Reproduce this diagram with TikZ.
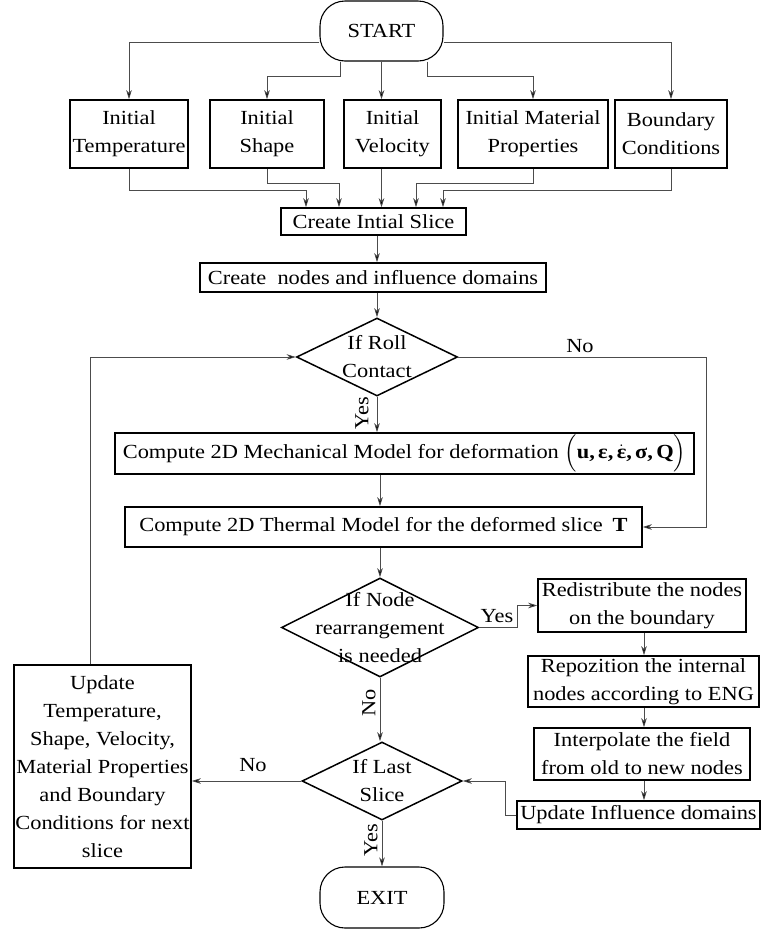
\documentclass[tikz,border=0pt]{standalone}
\usepackage{amsmath}
\usepackage{fontspec}
\setmainfont{Liberation Serif}[FakeStretch=1.12]
\usetikzlibrary{shapes.geometric,arrows.meta}
\newcommand{\bft}[1]{\text{\bfseries #1}}
\begin{document}
\begin{tikzpicture}[x=1pt,y=-1pt,
  font=\fontsize{20}{28}\selectfont,
  box/.style={draw, line width=1.5pt, align=center, inner sep=1pt},
  term/.style={box, line width=1.1pt, rounded corners=25pt},
  dia/.style={diamond, draw, line width=1.5pt, inner sep=0pt},
  conn/.style={draw=black!70, line width=0.75pt, -{Stealth[length=9pt,width=5.5pt,inset=2.5pt,fill=black]}},
  lab/.style={inner sep=0pt}]
\useasboundingbox (0,0) rectangle (762,930);
% terminals
\node[term, minimum width=123pt, minimum height=60pt] (start) at (381.5,31) {START};
\node[term, minimum width=124pt, minimum height=61pt] (exit) at (382,897.5) {EXIT};
% initial boxes
\node[box, minimum width=118pt, minimum height=68pt] (temp) at (129,134) {Initial\\Temperature};
\node[box, minimum width=114pt, minimum height=68pt] (shape) at (267,134) {Initial\\Shape};
\node[box, minimum width=97pt, minimum height=68pt] (vel) at (392.5,134) {Initial\\Velocity};
\node[box, minimum width=150pt, minimum height=68pt] (mat) at (533,134) {Initial Material\\Properties};
\node[box, minimum width=112pt, minimum height=68pt] (bnd) at (671,134) {Boundary\\Conditions};
\node[box, minimum width=185pt, minimum height=27pt] (slice) at (373.5,221.5) {Create Intial Slice};
\node[box, minimum width=346pt, minimum height=29pt] (nodes) at (373,277.5) {Create\ \ nodes and influence domains};
% decisions
\node[dia, minimum width=161pt, minimum height=78pt,
  label={[align=center,lab]center:If Roll\\Contact}] (d1) at (377,357) {};
\node[box, minimum width=579pt, minimum height=41pt] (mech) at (404.5,453.5)
  {Compute 2D Mechanical Model for deformation $\Bigl(\bft{u,\,ε,\,}\dot{\bft{ε}}\bft{,\,σ,\,Q}\Bigr)$};
\node[box, minimum width=517pt, minimum height=40pt] (therm) at (383.5,527)
  {Compute 2D Thermal Model for the deformed slice\enspace\textbf{T}};
\node[dia, minimum width=197pt, minimum height=99pt,
  label={[align=center,lab]center:If Node\\rearrangement\\is needed}] (d2) at (380,627.5) {};
\node[dia, minimum width=160pt, minimum height=78pt,
  label={[align=center,lab]center:If Last\\Slice}] (d3) at (382,781) {};
% right chain
\node[box, minimum width=208pt, minimum height=53pt] (redis) at (642,605.5) {Redistribute the nodes\\on the boundary};
\node[box, minimum width=231pt, minimum height=51pt] (repo) at (643.5,681.5) {Repozition the internal\\nodes according to ENG};
\node[box, minimum width=216pt, minimum height=52pt] (interp) at (642,754) {Interpolate the field\\from old to new nodes};
\node[box, minimum width=243pt, minimum height=28pt] (infl) at (638.5,815) {Update Influence domains};
% update box
\node[box, minimum width=177pt, minimum height=203pt] (upd) at (102.5,766.5)
  {Update\\Temperature,\\Shape, Velocity,\\Material Properties\\and Boundary\\Conditions for next\\slice};
% helper coordinates
\coordinate (nr) at (706,357);
\coordinate (fb) at (90,357);
\coordinate (yj) at (517,0);
\coordinate (ij) at (505,0);
\coordinate (ra) at (644,0);
\coordinate (ax) at (380,0);
% START branches
\draw[conn] ([yshift=-11pt]start.west) -| (temp.north);
\draw[conn] ([yshift=-11pt]start.east) -| (bnd.north);
\draw[conn] ([xshift=-41.5pt]start.south) -- ++(0,15) -| (shape.north);
\draw[conn] ([xshift=45.5pt]start.south) -- ++(0,15) -| (mat.north);
\draw[conn] (start.south) -- (start.south |- vel.north);
% into slice
\draw[conn] (temp.south) -- ++(0,22) -| ([xshift=-67.5pt]slice.north);
\draw[conn] (shape.south) -- ++(0,15) -| ([xshift=-34.5pt]slice.north);
\draw[conn] (start.south |- vel.south) -- (start.south |- slice.north);
\draw[conn] (mat.south) -- ++(0,15) -| ([xshift=42.5pt]slice.north);
\draw[conn] (bnd.south) -- ++(0,22) -| ([xshift=69.5pt]slice.north);
% main flow
\draw[conn] (slice.south -| d1.north) -- (nodes.north -| d1.north);
\draw[conn] (nodes.south -| d1.north) -- (d1.north);
\draw[conn] (d1.south) -- (d1.south |- mech.north);
\draw[conn] (mech.south -| ax) -- (therm.north -| ax);
\draw[conn] (therm.south -| ax) -- (d2.north);
\draw[conn] (d2.south) -- (d2.south |- d3.north);
\draw[conn] (d3.south) -- (exit.north);
% roll no
\draw[conn] (d1.east) -- (nr) |- (therm.east);
% feedback
\draw[conn] (upd.north -| fb) -- (fb) -- (d1.west);
% node yes
\draw[conn] (d2.east) -- (d2.east -| yj) |- (redis.west);
\draw[conn] (redis.south -| ra) -- (repo.north -| ra);
\draw[conn] (repo.south -| ra) -- (interp.north -| ra);
\draw[conn] (interp.south -| ra) -- (infl.north -| ra);
\draw[conn] (infl.west) -- (infl.west -| ij) |- (d3.east);
% last no
\draw[conn] (d3.west) -- (d3.west -| upd.east);
% labels
\node[lab] (lno1) at (580,346) {No};
\node[lab, rotate=90] (lyes1) at (362,413) {Yes};
\node[lab] (lyes2) at (497,616) {Yes};
\node[lab, rotate=90] (lno2) at (369,703) {No};
\node[lab] (lno3) at (253,765) {No};
\node[lab, rotate=90] (lyes3) at (371,840) {Yes};
\end{tikzpicture}
\end{document}
